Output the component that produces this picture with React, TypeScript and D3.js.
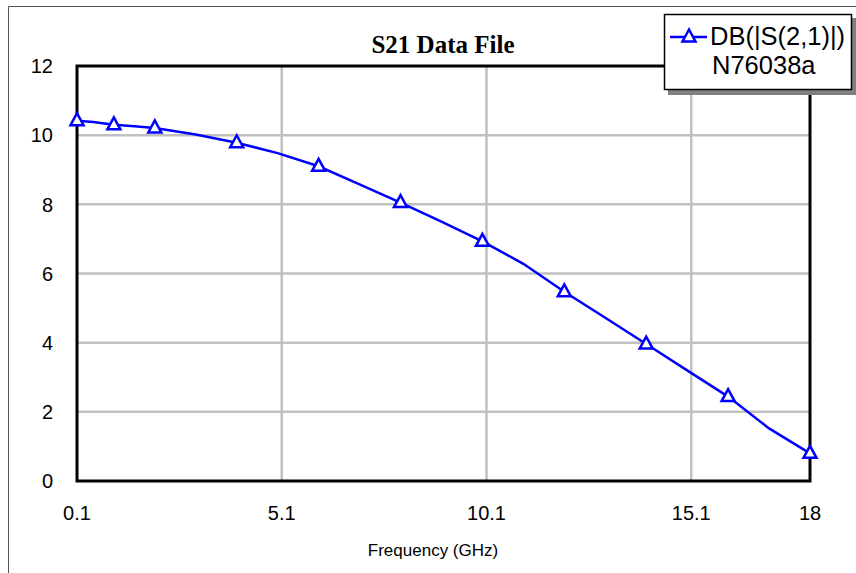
import React from "react";
import * as d3 from "d3";

const freq = [0.1, 0.5, 1, 1.5, 2, 3, 4, 5, 6, 7, 8, 9, 10, 11, 12, 13, 14, 15, 16, 17, 18];
const s21 = [10.42, 10.38, 10.3, 10.26, 10.21, 10.02, 9.78, 9.48, 9.1, 8.58, 8.05, 7.5, 6.93, 6.28, 5.47, 4.72, 3.96, 3.2, 2.44, 1.52, 0.8];
const markerFreq = [0.1, 1, 2, 4, 6, 8, 10, 12, 14, 16, 18];
const xTicks = [0.1, 5.1, 10.1, 15.1, 18];
const xGrid = [5.1, 10.1, 15.1];
const yTicks = [0, 2, 4, 6, 8, 10, 12];
const title = "S21 Data File";
const xTitle = "Frequency (GHz)";
const legendLabel = "DB(|S(2,1)|)";
const legendSub = "N76038a";

const W = 856;
const H = 573;
const L = 77, R = 810, T = 66, B = 481;
const BLUE = "#0000FF";
const tri = "M0,-7.5L6.5,4.5L-6.5,4.5Z";

export default function App() {
  const x = d3.scaleLinear().domain([0.1, 18]).range([L, R]);
  const y = d3.scaleLinear().domain([0, 12]).range([B, T]);
  const pts = freq.map((f, i) => [f, s21[i]] as [number, number]);
  const line = d3.line<[number, number]>().x(d => x(d[0])).y(d => y(d[1]));
  const markers = markerFreq.map(f => pts.find(p => p[0] === f)!);
  const sans = "Arial, 'Liberation Sans', sans-serif";
  return (
    <svg width={W} height={H} style={{ position: "absolute", left: 0, top: 0, background: "#fff" }}>
      <rect x={0} y={0} width={W} height={H} fill="#fff" />
      <path d={`M8.5,${H}L8.5,6.5L${W},6.5`} fill="none" stroke="#555" strokeWidth={1} />
      {yTicks.filter(v => v > 0 && v < 12).map(v => (
        <line key={"gy" + v} x1={L} x2={R} y1={y(v)} y2={y(v)} stroke="#C0C0C0" strokeWidth={2.5} />
      ))}
      {xGrid.map(v => (
        <line key={"gx" + v} x1={x(v)} x2={x(v)} y1={T} y2={B} stroke="#C0C0C0" strokeWidth={2.5} />
      ))}
      <rect x={L} y={T} width={R - L} height={B - T} fill="none" stroke="#000" strokeWidth={3} />
      {yTicks.map(v => (
        <text key={"yl" + v} x={53} y={y(v)} dy="0.36em" textAnchor="end" fontFamily={sans} fontSize={20} fill="#000">{v}</text>
      ))}
      {xTicks.map(v => (
        <text key={"xl" + v} x={x(v)} y={520} textAnchor="middle" fontFamily={sans} fontSize={20} fill="#000">{v}</text>
      ))}
      <text x={433} y={556} textAnchor="middle" fontFamily={sans} fontSize={17} fill="#000">{xTitle}</text>
      <text x={443} y={53} textAnchor="middle" fontFamily="'Times New Roman', 'Liberation Serif', serif" fontWeight="bold" fontSize={25} fill="#000">{title}</text>
      <path d={line(pts) || ""} fill="none" stroke={BLUE} strokeWidth={2.5} />
      {markers.map((p, i) => (
        <path key={"m" + i} d={tri} transform={`translate(${x(p[0])},${y(p[1])})`} fill="#fff" stroke={BLUE} strokeWidth={2.5} />
      ))}
      <rect x={668} y={18} width={188} height={77} fill="#808080" />
      <rect x={664.5} y={14.5} width={187} height={75} fill="#fff" stroke="#000" strokeWidth={1.5} />
      <line x1={670} x2={707} y1={37} y2={37} stroke={BLUE} strokeWidth={2.5} />
      <path d={tri} transform="translate(689,37)" fill="#fff" stroke={BLUE} strokeWidth={2.5} />
      <text x={710} y={45} fontFamily={sans} fontSize={25.5} fill="#000">{legendLabel}</text>
      <text x={712} y={74} fontFamily={sans} fontSize={25.5} fill="#000">{legendSub}</text>
    </svg>
  );
}
